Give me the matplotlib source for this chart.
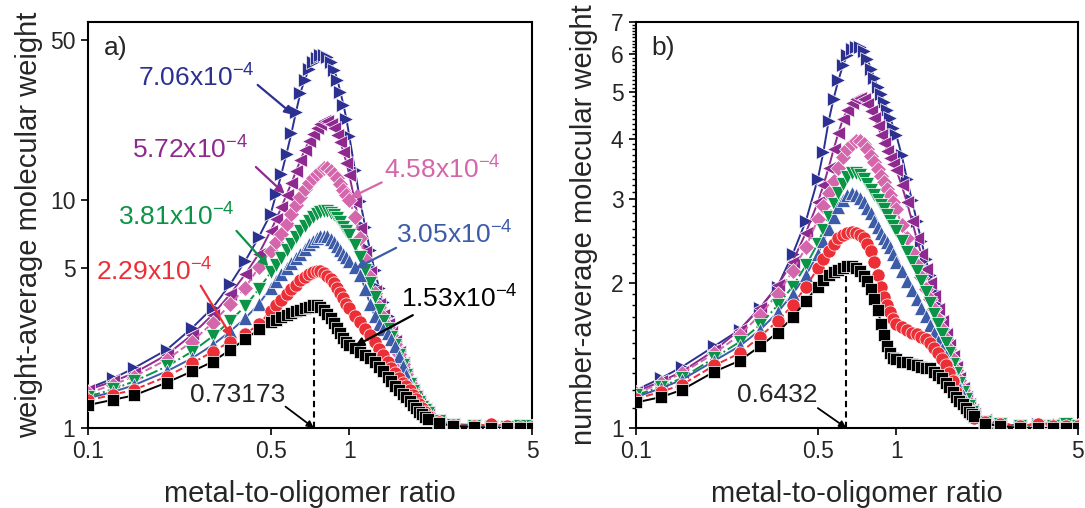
import numpy as np
import matplotlib
matplotlib.use('Agg')
import matplotlib.pyplot as plt
from matplotlib.ticker import FixedLocator, FixedFormatter, NullLocator, NullFormatter

plt.rcParams['font.family'] = ['Liberation Sans', 'DejaVu Sans']
plt.rcParams['mathtext.default'] = 'regular'

# ---------------- data ----------------
x_ratio = [0.1, 0.125, 0.15, 0.2, 0.25, 0.3, 0.35, 0.4, 0.45,
           0.5, 0.525, 0.55, 0.575, 0.6, 0.625, 0.65, 0.675, 0.7, 0.725, 0.75,
           0.775, 0.8, 0.825, 0.85, 0.875, 0.9, 0.925, 0.95, 0.975, 1.0,
           1.05, 1.1, 1.15, 1.2, 1.25, 1.3, 1.35, 1.4, 1.45, 1.5,
           1.55, 1.6, 1.65, 1.7, 1.75, 1.8, 1.85, 1.9, 1.95, 2.0,
           2.2, 2.5, 3.0, 3.5, 4.0, 4.5, 5.0]

# panel a: weight-average molecular weight
mw_153 = [1.26, 1.33, 1.39, 1.58, 1.77, 1.95, 2.2, 2.45, 2.7,
          2.9, 2.98, 3.05, 3.12, 3.18, 3.24, 3.3, 3.35, 3.4, 3.45, 3.44,
          3.38, 3.28, 3.16, 3.02, 2.88, 2.74, 2.6, 2.47, 2.38, 2.32,
          2.23, 2.15, 2.08, 2.02, 1.94, 1.85, 1.77, 1.68, 1.6, 1.53,
          1.47, 1.41, 1.36, 1.31, 1.26, 1.22, 1.18, 1.15, 1.12, 1.1,
          1.05, 1.02, 1.01, 1.0, 1.0, 1.0, 1.0]
mw_229 = [1.32, 1.4, 1.47, 1.68, 1.92, 2.16, 2.39, 2.58, 2.84,
          3.25, 3.45, 3.65, 3.85, 4.05, 4.25, 4.45, 4.6, 4.72, 4.8, 4.85,
          4.85, 4.78, 4.65, 4.5, 4.3, 4.1, 3.9, 3.7, 3.5, 3.35,
          3.1, 2.9, 2.72, 2.55, 2.38, 2.22, 2.08, 1.95, 1.84, 1.74,
          1.66, 1.58, 1.52, 1.46, 1.4, 1.34, 1.28, 1.22, 1.17, 1.13,
          1.06, 1.03, 1.02, 1.04, 1.02, 1.01, 1.01]
mw_305 = [1.35, 1.44, 1.54, 1.77, 2.02, 2.31, 2.65, 3.03, 3.48,
          4.12, 4.42, 4.72, 5.0, 5.3, 5.55, 5.8, 6.1, 6.4, 6.62, 6.82,
          6.93, 6.95, 6.9, 6.75, 6.5, 6.25, 6.0, 5.8, 5.6, 5.4,
          5.05, 4.7, 4.05, 3.5, 3.1, 2.85, 2.7, 2.6, 2.45, 2.28,
          2.06, 1.87, 1.7, 1.56, 1.45, 1.37, 1.3, 1.24, 1.2, 1.16,
          1.07, 1.03, 1.02, 1.03, 1.02, 1.01, 1.02]
mw_381 = [1.37, 1.48, 1.6, 1.86, 2.16, 2.52, 2.94, 3.42, 4.05,
          4.8, 5.2, 5.58, 6.0, 6.4, 6.85, 7.3, 7.7, 8.1, 8.4, 8.67,
          8.85, 8.9, 8.88, 8.75, 8.55, 8.3, 7.95, 7.6, 7.3, 7.0,
          6.3, 5.6, 4.9, 4.3, 3.75, 3.3, 2.95, 2.7, 2.5, 2.3,
          2.08, 1.88, 1.7, 1.56, 1.45, 1.37, 1.3, 1.24, 1.2, 1.16,
          1.07, 1.03, 1.02, 1.01, 1.01, 1.02, 1.02]
mw_458 = [1.42, 1.55, 1.68, 1.99, 2.39, 2.89, 3.48, 4.12, 5.05,
          5.98, 6.5, 7.08, 7.85, 8.67, 9.5, 10.3, 11.1, 11.8, 12.4, 13.0,
          13.4, 13.7, 13.7, 13.4, 13.0, 12.4, 11.7, 11.0, 10.5, 10.0,
          8.4, 6.8, 5.5, 4.6, 3.9, 3.4, 3.05, 2.78, 2.55, 2.34,
          2.1, 1.9, 1.72, 1.57, 1.46, 1.37, 1.3, 1.25, 1.2, 1.16,
          1.07, 1.03, 1.02, 1.01, 1.01, 1.01, 1.01]
mw_572 = [1.47, 1.6, 1.74, 2.09, 2.56, 3.14, 3.85, 4.72, 5.78,
          7.3, 8.2, 9.28, 10.5, 11.8, 13.3, 14.9, 16.5, 18.0, 19.4, 20.6,
          21.5, 22.0, 22.0, 21.5, 20.5, 19.2, 17.8, 16.2, 14.5, 12.8,
          9.8, 7.5, 5.9, 4.8, 4.0, 3.5, 3.12, 2.85, 2.62, 2.4,
          2.15, 1.93, 1.73, 1.58, 1.46, 1.38, 1.31, 1.25, 1.21, 1.17,
          1.08, 1.04, 1.03, 1.02, 1.02, 1.02, 1.02]
mw_706 = [1.49, 1.65, 1.83, 2.2, 2.74, 3.36, 4.26, 5.4, 6.84,
          8.67, 10.6, 13.0, 15.9, 19.5, 24.2, 29.4, 33.5, 37.2, 40.0, 41.9,
          43.0, 43.0, 42.0, 40.0, 37.0, 33.5, 29.5, 26.0, 22.5, 19.0,
          13.5, 9.9, 7.6, 6.0, 4.9, 4.1, 3.55, 3.1, 2.78, 2.5,
          2.22, 1.97, 1.76, 1.6, 1.48, 1.39, 1.32, 1.26, 1.22, 1.18,
          1.08, 1.04, 1.02, 1.02, 1.01, 1.01, 1.02]

# panel b: number-average molecular weight
mn_153 = [1.13, 1.16, 1.2, 1.31, 1.38, 1.48, 1.58, 1.7, 1.84,
          1.97, 2.03, 2.08, 2.11, 2.13, 2.15, 2.17, 2.17, 2.15, 2.12, 2.07,
          2.02, 1.95, 1.86, 1.76, 1.65, 1.56, 1.48, 1.43, 1.4, 1.39,
          1.37, 1.37, 1.36, 1.35, 1.34, 1.33, 1.33, 1.31, 1.29, 1.27,
          1.24, 1.22, 1.19, 1.16, 1.14, 1.12, 1.1, 1.08, 1.07, 1.06,
          1.02, 1.01, 1.0, 1.0, 1.0, 1.0, 1.0]
mn_229 = [1.15, 1.19, 1.23, 1.35, 1.43, 1.55, 1.67, 1.8, 1.97,
          2.15, 2.25, 2.34, 2.42, 2.48, 2.52, 2.55, 2.56, 2.55, 2.52, 2.48,
          2.42, 2.34, 2.22, 2.08, 1.97, 1.87, 1.8, 1.74, 1.69, 1.65,
          1.62, 1.6, 1.58, 1.57, 1.55, 1.53, 1.5, 1.47, 1.43, 1.39,
          1.35, 1.3, 1.25, 1.19, 1.15, 1.12, 1.09, 1.07, 1.06, 1.05,
          1.03, 1.02, 1.01, 1.02, 1.01, 1.01, 1.01]
mn_305 = [1.16, 1.21, 1.26, 1.38, 1.48, 1.6, 1.74, 1.9, 2.08,
          2.3, 2.45, 2.6, 2.75, 2.88, 2.98, 3.05, 3.08, 3.06, 3.01, 2.95,
          2.87, 2.8, 2.7, 2.62, 2.55, 2.49, 2.44, 2.38, 2.3, 2.22,
          2.12, 2.02, 1.94, 1.86, 1.78, 1.71, 1.64, 1.58, 1.52, 1.46,
          1.41, 1.36, 1.31, 1.26, 1.21, 1.17, 1.13, 1.1, 1.08, 1.06,
          1.03, 1.02, 1.01, 1.02, 1.02, 1.01, 1.01]
mn_381 = [1.17, 1.22, 1.27, 1.4, 1.51, 1.64, 1.8, 1.97, 2.18,
          2.42, 2.58, 2.75, 2.92, 3.08, 3.22, 3.33, 3.4, 3.4, 3.36, 3.3,
          3.22, 3.13, 3.05, 2.98, 2.91, 2.85, 2.78, 2.7, 2.63, 2.57,
          2.45, 2.33, 2.22, 2.12, 2.02, 1.92, 1.82, 1.73, 1.65, 1.57,
          1.5, 1.43, 1.36, 1.3, 1.24, 1.19, 1.15, 1.11, 1.08, 1.06,
          1.03, 1.02, 1.01, 1.01, 1.01, 1.02, 1.01]
mn_458 = [1.18, 1.24, 1.3, 1.43, 1.56, 1.72, 1.9, 2.12, 2.38,
          2.72, 2.9, 3.08, 3.27, 3.48, 3.66, 3.8, 3.9, 3.95, 3.95, 3.9,
          3.8, 3.68, 3.57, 3.46, 3.35, 3.25, 3.15, 3.05, 2.95, 2.85,
          2.65, 2.48, 2.33, 2.18, 2.06, 1.95, 1.86, 1.77, 1.69, 1.61,
          1.53, 1.46, 1.39, 1.32, 1.26, 1.2, 1.15, 1.11, 1.08, 1.06,
          1.03, 1.02, 1.01, 1.01, 1.01, 1.01, 1.01]
mn_572 = [1.19, 1.25, 1.31, 1.45, 1.6, 1.78, 1.98, 2.22, 2.55,
          2.95, 3.2, 3.48, 3.8, 4.12, 4.4, 4.6, 4.75, 4.83, 4.86, 4.83,
          4.72, 4.58, 4.42, 4.25, 4.08, 3.92, 3.78, 3.65, 3.55, 3.45,
          3.2, 2.95, 2.7, 2.48, 2.3, 2.14, 2.0, 1.88, 1.77, 1.67,
          1.57, 1.49, 1.41, 1.34, 1.27, 1.21, 1.16, 1.12, 1.09, 1.07,
          1.04, 1.02, 1.01, 1.01, 1.02, 1.01, 1.01]
mn_706 = [1.2, 1.27, 1.34, 1.48, 1.6, 1.78, 1.97, 2.3, 2.7,
          3.3, 3.75, 4.35, 4.85, 5.3, 5.7, 5.98, 6.15, 6.22, 6.2, 6.08,
          5.85, 5.6, 5.35, 5.12, 4.95, 4.78, 4.6, 4.42, 4.22, 4.08,
          3.7, 3.3, 2.98, 2.7, 2.45, 2.25, 2.08, 1.93, 1.8, 1.69,
          1.59, 1.5, 1.42, 1.35, 1.28, 1.22, 1.17, 1.13, 1.1, 1.08,
          1.04, 1.02, 1.01, 1.02, 1.01, 1.02, 1.01]

concentrations = ['1.53', '2.29', '3.05', '3.81', '4.58', '5.72', '7.06']
peak_a = 0.73173
peak_b = 0.6432

x_ticks = [0.1, 0.5, 1, 5]
x_tick_labels = ['0.1', '0.5', '1', '5']
ya_ticks = [1, 5, 10, 50]
ya_tick_labels = ['1', '5', '10', '50']
yb_ticks = [1, 2, 3, 4, 5, 6, 7]
yb_tick_labels = ['1', '2', '3', '4', '5', '6', '7']

# ---------------- style ----------------
styles = {
    '1.53': dict(color='#000000', marker='s', ms=8.5, ls='-'),
    '2.29': dict(color='#ec2f36', marker='o', ms=9.5, ls='--'),
    '3.05': dict(color='#3c5ba9', marker='^', ms=10.5, ls='-'),
    '3.81': dict(color='#0b9447', marker='v', ms=10.5, ls='-.'),
    '4.58': dict(color='#d466ac', marker='D', ms=8, ls='--'),
    '5.72': dict(color='#8e2a8f', marker='<', ms=10.5, ls='-'),
    '7.06': dict(color='#2c3191', marker='>', ms=10.5, ls='-'),
}
series_a = dict(zip(concentrations, [mw_153, mw_229, mw_305, mw_381, mw_458, mw_572, mw_706]))
series_b = dict(zip(concentrations, [mn_153, mn_229, mn_305, mn_381, mn_458, mn_572, mn_706]))

txt_color = '#262626'

fig = plt.figure(figsize=(10.85, 5.08), dpi=100)
axa = fig.add_axes([0.0811, 0.1575, 0.4092, 0.7992])
axb = fig.add_axes([0.5862, 0.1575, 0.4073, 0.7992])


def draw(ax, series):
    for c in reversed(concentrations):
        st = styles[c]
        ax.plot(x_ratio, series[c], color=st['color'], ls=st['ls'], lw=1.4,
                marker=st['marker'], ms=st['ms'], mfc=st['color'],
                mec='white', mew=0.5, zorder=3)


draw(axa, series_a)
draw(axb, series_b)

for ax, ylim, yt, ytl in ((axa, (1, 60), ya_ticks, ya_tick_labels),
                          (axb, (1, 7), yb_ticks, yb_tick_labels)):
    ax.set_xscale('log')
    ax.set_yscale('log')
    ax.set_xlim(0.1, 5)
    ax.set_ylim(*ylim)
    ax.xaxis.set_major_locator(FixedLocator(x_ticks))
    ax.xaxis.set_major_formatter(FixedFormatter(x_tick_labels))
    ax.xaxis.set_minor_locator(NullLocator())
    ax.xaxis.set_minor_formatter(NullFormatter())
    ax.yaxis.set_major_locator(FixedLocator(yt))
    ax.yaxis.set_major_formatter(FixedFormatter(ytl))
    ax.yaxis.set_minor_locator(NullLocator())
    ax.yaxis.set_minor_formatter(NullFormatter())
    ax.tick_params(which='major', direction='out', length=5, width=1.2,
                   labelsize=16.5, labelcolor=txt_color, pad=4)
    ax.tick_params(which='minor', direction='out', length=3, width=1.0)
    for s in ax.spines.values():
        s.set_linewidth(1.5)
    ax.set_xlabel('metal-to-oligomer ratio', fontsize=21, color=txt_color, labelpad=12)

# minor ticks on panel b y axis
yb_minor = [v / 10 for v in range(11, 70) if v % 10 != 0]
axb.yaxis.set_minor_locator(FixedLocator(yb_minor))
axb.yaxis.set_minor_formatter(NullFormatter())

axa.set_ylabel('weight-average molecular weight', fontsize=21, color=txt_color, labelpad=5)
axb.set_ylabel('number-average molecular weight', fontsize=21, color=txt_color, labelpad=9)

axa.text(0.035, 0.965, 'a)', transform=axa.transAxes, fontsize=19, color=txt_color,
         ha='left', va='top')
axb.text(0.035, 0.965, 'b)', transform=axb.transAxes, fontsize=19, color=txt_color,
         ha='left', va='top')

# peak markers (dashed vertical lines)
axa.vlines(peak_a, 1, max(mw_153), colors='k', linestyles=(0, (3, 2)), lw=1.5, zorder=2)
axb.vlines(peak_b, 1, max(mn_153), colors='k', linestyles=(0, (3, 2)), lw=1.5, zorder=2)

arrow_kw = dict(arrowstyle='-|>', lw=1.6, mutation_scale=13, shrinkA=0, shrinkB=0)

# concentration labels on panel a: (text position, arrow start, arrow tip)
label_layout = {
    '7.06': ((0.156, 31.2), (0.446, 31.8), (0.612, 23.5)),
    '5.72': ((0.147, 15.2), (0.439, 13.9), (0.566, 10.6)),
    '4.58': ((1.36, 12.4), (1.33, 11.9), (1.01, 10.2)),
    '3.81': ((0.13, 7.7), (0.37, 7.3), (0.49, 5.1)),
    '3.05': ((1.51, 6.4), (1.51, 6.15), (1.06, 5.0)),
    '2.29': ((0.107, 4.4), (0.27, 4.2), (0.355, 2.5)),
    '1.53': ((1.58, 3.36), (1.75, 3.12), (1.05, 2.28)),
}
for c, (txy, a0, a1) in label_layout.items():
    col = styles[c]['color']
    axa.text(txy[0], txy[1], c + r'x10$^{-4}$', color=col, fontsize=19,
             ha='left', va='baseline', zorder=6)
    axa.annotate('', xy=a1, xytext=a0,
                 arrowprops=dict(color=col, **arrow_kw), zorder=6)

axa.text(0.246, 1.3, f'{peak_a:.5f}', color=txt_color, fontsize=19, ha='left',
         va='baseline', zorder=6)
axa.annotate('', xy=(peak_a, 1.0), xytext=(0.57, 1.24),
             arrowprops=dict(color='k', arrowstyle='-|>', lw=1.3,
                             mutation_scale=10, shrinkA=0, shrinkB=0), zorder=6)

axb.text(0.245, 1.13, f'{peak_b:.4f}', color=txt_color, fontsize=19, ha='left',
         va='baseline', zorder=6)
axb.annotate('', xy=(peak_b, 1.0), xytext=(0.5, 1.1),
             arrowprops=dict(color='k', arrowstyle='-|>', lw=1.3,
                             mutation_scale=10, shrinkA=0, shrinkB=0), zorder=6)

fig.savefig('out.png', dpi=100)
